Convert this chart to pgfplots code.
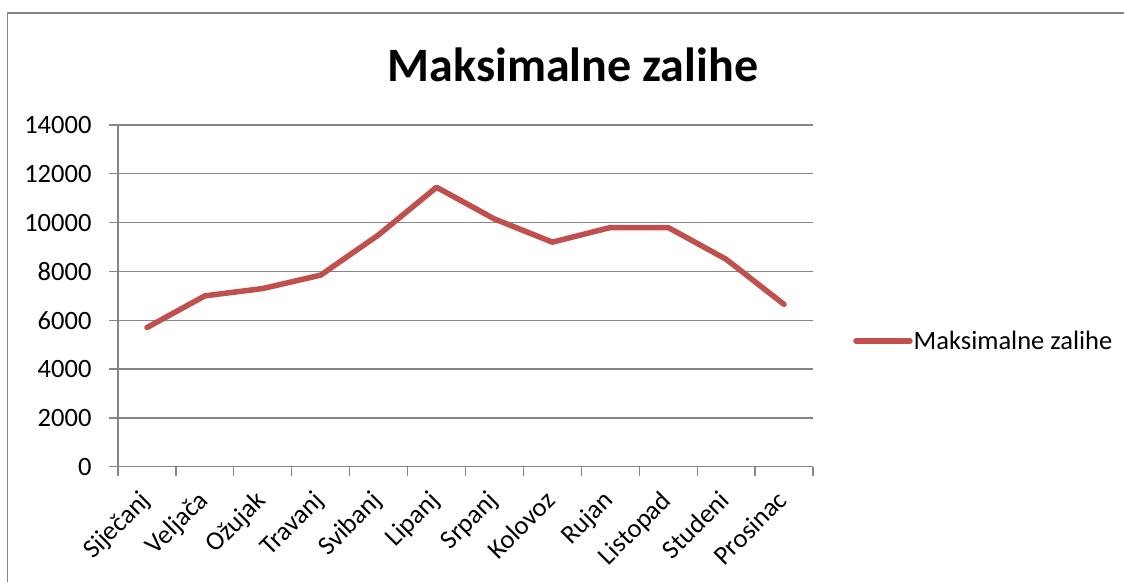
\documentclass[border=0pt]{standalone}
\usepackage{pgfplots}
\pgfplotsset{compat=1.18}
\usepackage{fontspec}
\setmainfont{Carlito}
\definecolor{serred}{HTML}{C0504D}
\definecolor{gridg}{HTML}{868686}
\begin{document}
\begin{tikzpicture}[x=1pt,y=1pt]
\path[use as bounding box] (0,0) rectangle (1124,581);
\draw[gridg, line width=1.5] (7.5,-20) -- (7.5,568) -- (1140,568);
\node[font=\bfseries\fontsize{48}{56}\selectfont, anchor=base] at (573,499) {Maksimalne zalihe};
\begin{axis}[
  at={(118pt,114.3pt)}, anchor=south west,
  width=695pt, height=341.7pt, scale only axis,
  xmin=-0.5, xmax=11.5, ymin=0, ymax=14000,
  ytick={0,2000,...,14000},
  scaled y ticks=false,
  xtick={0,...,11},
  minor xtick={-0.5,0.5,...,11.5},
  xticklabels={Siječanj,Veljača,Ožujak,Travanj,Svibanj,Lipanj,Srpanj,Kolovoz,Rujan,Listopad,Studeni,Prosinac},
  axis x line*=bottom, axis y line*=left,
  axis line style={gridg, line width=1.3},
  ymajorgrids, major grid style={gridg, line width=1.3},
  tick align=outside,
  major tick length=9pt, minor tick length=9pt,
  major x tick style={draw=none},
  minor x tick style={gridg, line width=1.3},
  ytick style={gridg, line width=1.3},
  /pgf/number format/1000 sep={},
  /pgf/number format/assume math mode=true,
  tick label style={font=\fontsize{26.5}{30}\selectfont, text=black},
  y tick label style={xshift=-14pt},
  x tick label style={rotate=45, anchor=north east, xshift=-12pt, yshift=0pt},
  clip=false,
  legend style={at={(1.0576,0.368)}, anchor=west, draw=none, fill=none,
    inner sep=0pt, font=\fontsize{26.5}{30}\selectfont,
    nodes={inner sep=1pt}},
  legend image code/.code={\draw[#1] (0pt,0pt) -- (54pt,0pt);},
]
\addplot[serred, line width=5.5pt, line join=round, line cap=round] coordinates {
(0,5700) (1,7000) (2,7300) (3,7850) (4,9500) (5,11450)
(6,10150) (7,9200) (8,9800) (9,9800) (10,8500) (11,6650)};
\addlegendentry{Maksimalne zalihe}
\end{axis}
\end{tikzpicture}
\end{document}
